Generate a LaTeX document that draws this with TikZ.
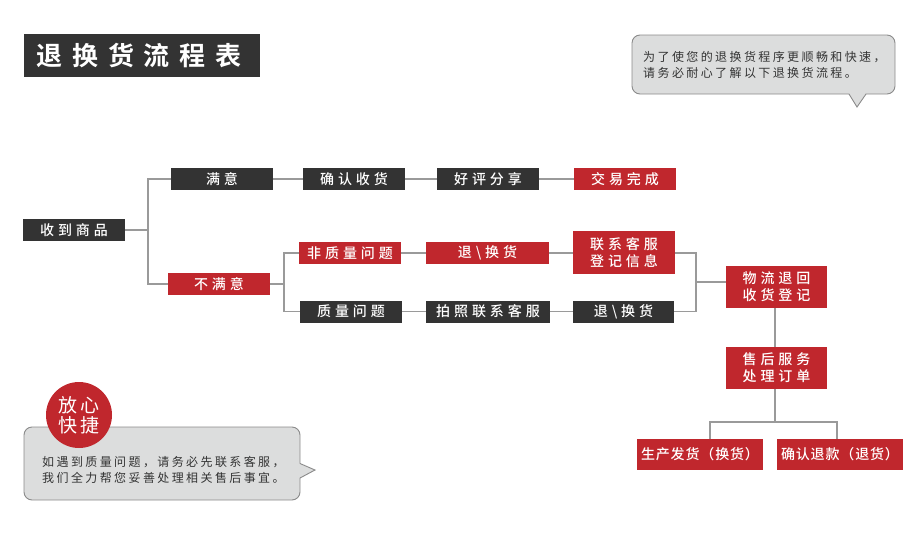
\documentclass[tikz,border=0pt]{standalone}
\usepackage{fontspec}
\setmainfont{Noto Sans CJK SC}
\newfontfamily\boxfont[LetterSpace=28]{Noto Sans CJK SC Medium}
\newfontfamily\widefont[LetterSpace=6]{Noto Sans CJK SC Medium}
\newfontfamily\smallfont[LetterSpace=20]{Noto Sans CJK SC}
\newfontfamily\titlefont[LetterSpace=38]{Noto Sans CJK SC Bold}
\newfontfamily\circfont[LetterSpace=12]{Noto Sans CJK SC}
\definecolor{dk}{HTML}{333333}
\definecolor{rd}{HTML}{C0272D}
\definecolor{ln}{HTML}{9A9A9A}
\definecolor{bubfill}{HTML}{DCDDDD}
\definecolor{bubline}{HTML}{8A8A8A}
\definecolor{txt}{HTML}{333333}
\tikzset{
  box/.style={text=white, minimum width=102pt, minimum height=22pt, inner sep=0pt,
    align=center, font=\boxfont\fontsize{14pt}{17pt}\selectfont},
  dbox/.style={box, fill=dk},
  rbox/.style={box, fill=rd},
  conn/.style={draw=ln, line width=1.4pt},
  bub/.style={fill=bubfill, draw=bubline, line width=0.9pt, rounded corners=8pt},
  bubtext/.style={text=txt, inner sep=0pt, anchor=west, align=left,
    font=\smallfont\fontsize{12pt}{16pt}\selectfont},
}
\begin{document}
\begin{tikzpicture}[x=1pt,y=-1pt]
\useasboundingbox (0,0) rectangle (924,552);
% title
\node[fill=dk, minimum width=236pt, minimum height=43pt, inner sep=0pt] (title) at (142,55.5) {};
\node[text=white, inner sep=0pt, font=\titlefont\fontsize{26pt}{30pt}\selectfont] (titletext) at ([xshift=-3pt]title.center) {退换货流程表};
% top-right bubble
\path[bub] (632,35) rectangle (895,94);
\fill[bubfill] (849,93) -- (857,107) -- (866,93) -- cycle;
\draw[bubline, line width=0.9pt] (849,94) -- (857,107) -- (866,94);
\node[bubtext] (note1) at (643,65) {为了使您的退换货程序更顺畅和快速，\\请务必耐心了解以下退换货流程。};
% nodes
\node[dbox] (recv) at (74,230) {收到商品};
\node[dbox] (sat) at (222,179) {满意};
\node[rbox] (unsat) at (219,284) {不满意};
\node[dbox] (confirm) at (354,179) {确认收货};
\node[dbox] (praise) at (488,179) {好评分享};
\node[rbox] (done) at (625,179) {交易完成};
\node[rbox] (nq) at (350,253) {非质量问题};
\node[rbox, minimum width=123pt] (ret1) at (487.5,253) {退\textbackslash 换货};
\node[rbox, minimum height=43pt] (contact) at (624,252.5) {联系客服\\登记信息};
\node[dbox] (q) at (351,311.5) {质量问题};
\node[dbox, minimum width=124pt] (photo) at (488,311.5) {拍照联系客服};
\node[dbox, minimum width=101pt] (ret2) at (623.5,311.5) {退\textbackslash 换货};
\node[rbox, minimum width=101pt, minimum height=42pt] (logi) at (776.5,287) {物流退回\\收货登记};
\node[rbox, minimum width=101pt, minimum height=42pt] (after) at (776.5,368) {售后服务\\处理订单};
\node[rbox, minimum width=126pt, minimum height=31pt, font=\widefont\fontsize{14pt}{17pt}\selectfont] (exch) at (700,454.5) {生产发货（换货）};
\node[rbox, minimum width=126pt, minimum height=31pt, font=\widefont\fontsize{14pt}{17pt}\selectfont] (refund) at (840,454.5) {确认退款（退货）};
% connectors
\coordinate (j1) at (148,230);
\coordinate (j2) at (284,284);
\coordinate (j3) at (696,282);
\coordinate (j4) at (775,422);
\draw[conn] (recv) -- (j1);
\draw[conn] (sat.west) -| (j1) |- (unsat.west);
\draw[conn] (sat) -- (confirm);
\draw[conn] (confirm) -- (praise);
\draw[conn] (praise) -- (done);
\draw[conn] (unsat) -- (j2);
\draw[conn] (nq.west) -| (j2) |- (q.west);
\draw[conn] (nq) -- (ret1);
\draw[conn] (ret1) -- (contact.west |- ret1);
\draw[conn] (q) -- (photo);
\draw[conn] (photo) -- (ret2);
\draw[conn] (contact.east |- nq) -| (j3) |- (ret2.east);
\draw[conn] (j3) -- (j3 -| logi.west);
\draw[conn] (logi.south -| j4) -- (after.north -| j4);
\draw[conn] (after.south -| j4) -- (j4);
\draw[conn] ([xshift=10pt]exch.north) |- (j4) -| ([xshift=-3pt]refund.north);
% bottom-left bubble
\path[bub] (24,427) rectangle (300,500);
\fill[bubfill] (299,463.5) -- (315,470) -- (299,478) -- cycle;
\draw[bubline, line width=0.9pt] (300,463.5) -- (315,470) -- (300,478);
\node[bubtext] (note2) at (42,470) {如遇到质量问题，请务必先联系客服，\\我们全力帮您妥善处理相关售后事宜。};
\node[circle, fill=rd, minimum size=66pt, inner sep=0pt, text=white, align=center,
  font=\circfont\fontsize{19pt}{20pt}\selectfont] (badge) at (79,415) {放心\\快捷};
\end{tikzpicture}
\end{document}
